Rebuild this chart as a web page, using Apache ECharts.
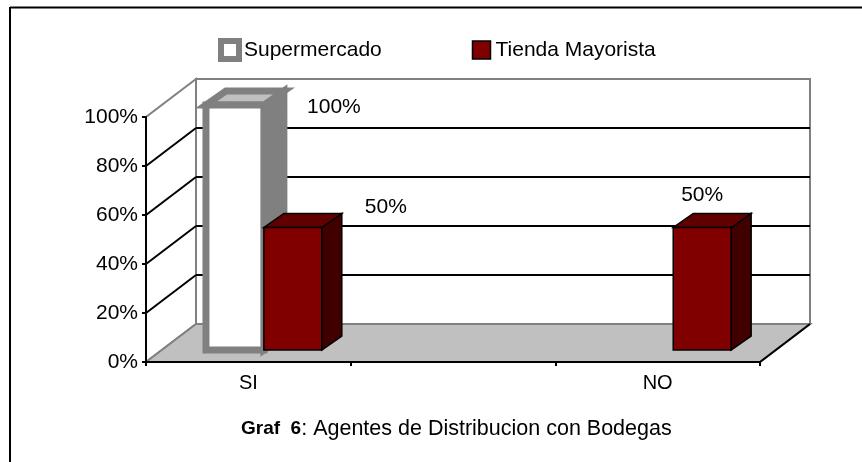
<!DOCTYPE html>
<html>
<head>
<meta charset="utf-8">
<script src="https://cdn.jsdelivr.net/npm/echarts@6/dist/echarts.min.js"></script>
<style>html,body{margin:0;padding:0;background:#fff}#chart{width:862px;height:462px}</style>
</head>
<body>
<div id="chart"></div>
<script>
// ---- data ----
const categories = ['SI', '', 'NO'];
const supermercado = [100, null, null];
const tiendaMayorista = [50, null, 50];
const yTickValues = [0, 20, 40, 60, 80, 100];
const seriesNames = ['Supermercado', 'Tienda Mayorista'];
const titleBold = 'Graf  6';
const titleRest = ': Agentes de Distribucion con Bodegas';

// ---- styling ----
const FONT = 'Liberation Sans, Arial, sans-serif';
const DX = 50, DY = -38;          // wall depth
const BAR_DX = 20, BAR_DY = -14;  // bar depth
const BAR_LIFT = 12;              // bars sit behind the front edge
const labelOffsets = [
  [[99, 2], null, null],
  [[93, -20], null, [0, -32]]
];
const looks = [
  {front: '#ffffff', side: '#808080', top: '#c0c0c0', stroke: '#808080', lw: 7},
  {front: '#800000', side: '#400000', top: '#600000', stroke: '#000000', lw: 1.5}
];

function bgRender(params, api) {
  const bw = api.size([1, 0])[0];
  const x0 = api.coord([0, 0])[0] - bw / 2;
  const x1 = api.coord([categories.length - 1, 0])[0] + bw / 2;
  const y0 = api.coord([0, 0])[1];
  const yTop = api.coord([0, yTickValues[yTickValues.length - 1]])[1];
  const ch = [];
  ch.push({type: 'rect', shape: {x: x0 + DX, y: yTop + DY, width: x1 - x0, height: y0 - yTop},
    style: {fill: '#fff', stroke: '#808080', lineWidth: 2}});
  ch.push({type: 'polygon', shape: {points: [[x0, y0], [x0, yTop], [x0 + DX, yTop + DY], [x0 + DX, y0 + DY]]},
    style: {fill: '#fff', stroke: '#808080', lineWidth: 2}});
  yTickValues.forEach(function (v, i) {
    if (i === 0 || i === yTickValues.length - 1) return;
    const y = api.coord([0, v])[1];
    ch.push({type: 'line', shape: {x1: x0, y1: y, x2: x0 + DX, y2: y + DY}, style: {stroke: '#000', lineWidth: 2}});
    ch.push({type: 'line', shape: {x1: x0 + DX, y1: y + DY, x2: x1 + DX, y2: y + DY}, style: {stroke: '#000', lineWidth: 2}});
  });
  ch.push({type: 'polygon', shape: {points: [[x0, y0], [x1, y0], [x1 + DX, y0 + DY], [x0 + DX, y0 + DY]]},
    style: {fill: '#c0c0c0', stroke: '#808080', lineWidth: 2}});
  ch.push({type: 'line', shape: {x1: x1, y1: y0, x2: x1 + DX, y2: y0 + DY}, style: {stroke: '#000', lineWidth: 2}});
  return {type: 'group', children: ch};
}

function makeBarRender(si) {
  return function (params, api) {
    const ci = api.value(0);
    const v = api.value(1);
    if (v == null || isNaN(v)) return null;
    const L = looks[si];
    const bw = api.size([1, 0])[0];
    const bandStart = api.coord([ci, 0])[0] - bw / 2;
    const barW = bw * 0.283;
    const xl = bandStart + bw * 0.293 + si * barW;
    const xr = xl + barW;
    const yb = api.coord([ci, 0])[1] - BAR_LIFT;
    const yt = api.coord([ci, v])[1] - BAR_LIFT;
    const ch = [];
    ch.push({type: 'polygon', shape: {points: [[xr, yt], [xr + BAR_DX, yt + BAR_DY], [xr + BAR_DX, yb + BAR_DY], [xr, yb]]},
      style: {fill: L.side, stroke: L.stroke, lineWidth: L.lw, lineJoin: 'miter'}});
    ch.push({type: 'polygon', shape: {points: [[xl, yt], [xr, yt], [xr + BAR_DX, yt + BAR_DY], [xl + BAR_DX, yt + BAR_DY]]},
      style: {fill: L.top, stroke: L.stroke, lineWidth: L.lw, lineJoin: 'miter'}});
    ch.push({type: 'rect', shape: {x: xl, y: yt, width: barW, height: yb - yt},
      style: {fill: L.front, stroke: L.stroke, lineWidth: L.lw}});
    const off = labelOffsets[si][ci];
    if (off) {
      ch.push({type: 'text', style: {text: v + '%', x: (xl + xr) / 2 + off[0], y: yt + off[1],
        align: 'center', verticalAlign: 'middle', fontSize: 21, fontFamily: FONT, fill: '#000'}});
    }
    return {type: 'group', children: ch};
  };
}

const seriesData = [supermercado, tiendaMayorista];
const chart = echarts.init(document.getElementById('chart'), null, {renderer: 'canvas'});
chart.setOption({
  animation: false,
  backgroundColor: '#fff',
  textStyle: {fontFamily: FONT},
  grid: {left: 146, right: 102, top: 117, bottom: 100},
  title: {
    text: '{b|' + titleBold + '}' + titleRest,
    left: 241, top: 418, padding: 0,
    textStyle: {fontSize: 21.5, fontWeight: 'normal', color: '#000', fontFamily: FONT,
      rich: {b: {fontSize: 19, fontWeight: 'bold', color: '#000', fontFamily: FONT}}}
  },
  legend: {
    left: 218, top: 38, padding: 0, itemGap: 90, itemWidth: 18, itemHeight: 18,
    textStyle: {fontSize: 21, color: '#000', fontFamily: FONT},
    data: [
      {name: seriesNames[0], icon: 'rect', itemStyle: {color: '#fff', borderColor: '#808080', borderWidth: 6}},
      {name: seriesNames[1], icon: 'rect', itemStyle: {color: '#800000', borderColor: '#000', borderWidth: 1.5}}
    ]
  },
  xAxis: {
    type: 'category', data: categories, boundaryGap: true, z: 10,
    axisLine: {lineStyle: {color: '#000', width: 2}},
    axisTick: {show: true, length: 4, lineStyle: {color: '#000', width: 2}},
    axisLabel: {fontSize: 20, color: '#000', margin: 11, fontFamily: FONT},
    splitLine: {show: false}
  },
  yAxis: {
    type: 'value', min: 0, max: 100, interval: 20, z: 10,
    axisLine: {show: true, lineStyle: {color: '#000', width: 2}},
    axisTick: {show: true, length: 4, lineStyle: {color: '#000', width: 2}},
    axisLabel: {fontSize: 21, color: '#000', margin: 8, formatter: '{value}%', fontFamily: FONT},
    splitLine: {show: false}
  },
  graphic: [
    {type: 'line', shape: {x1: 10, y1: 7.5, x2: 862, y2: 7.5}, style: {stroke: '#000', lineWidth: 2}},
    {type: 'line', shape: {x1: 10, y1: 7, x2: 10, y2: 462}, style: {stroke: '#000', lineWidth: 2}}
  ],
  series: [
    {type: 'custom', name: '_bg', silent: true, z: 1, data: [[0, 0]], renderItem: bgRender, encode: {x: 0, y: 1}},
    {type: 'custom', name: seriesNames[0], z: 2, renderItem: makeBarRender(0), encode: {x: 0, y: 1},
      itemStyle: {color: '#fff', borderColor: '#808080', borderWidth: 6},
      data: categories.map(function (c, i) { return [i, seriesData[0][i] == null ? NaN : seriesData[0][i]]; })},
    {type: 'custom', name: seriesNames[1], z: 3, renderItem: makeBarRender(1), encode: {x: 0, y: 1},
      itemStyle: {color: '#800000', borderColor: '#000', borderWidth: 1.5},
      data: categories.map(function (c, i) { return [i, seriesData[1][i] == null ? NaN : seriesData[1][i]]; })}
  ]
});
</script>
</body>
</html>
